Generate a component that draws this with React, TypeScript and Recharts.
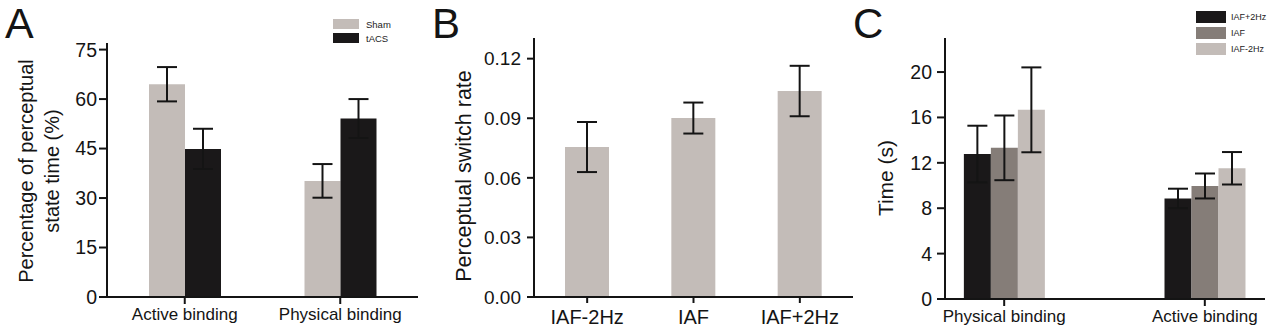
import React from 'react';
import { BarChart, Bar, XAxis, YAxis, ErrorBar, Label } from 'recharts';

// ---------- Panel A ----------
const catsA = ['Active binding', 'Physical binding'];
const shamA = [64.5, 35.2];
const shamErrA = [5.2, 5.1];
const tacsA = [44.9, 54.1];
const tacsErrA = [6.1, 5.9];
const ticksA = [0, 15, 30, 45, 60, 75];
const seriesNamesA = ['Sham', 'tACS'];

// ---------- Panel B ----------
const catsB = ['IAF-2Hz', 'IAF', 'IAF+2Hz'];
const rateB = [0.0755, 0.0901, 0.1037];
const rateErrB = [0.0126, 0.0078, 0.0127];
const ticksB = [0, 0.03, 0.06, 0.09, 0.12];

// ---------- Panel C ----------
const catsC = ['Physical binding', 'Active binding'];
const plusC = [12.77, 8.86];
const plusErrC = [2.5, 0.86];
const iafC = [13.32, 9.96];
const iafErrC = [2.85, 1.1];
const minusC = [16.67, 11.52];
const minusErrC = [3.74, 1.43];
const ticksC = [0, 4, 8, 12, 16, 20];
const seriesNamesC = ['IAF+2Hz', 'IAF', 'IAF-2Hz'];

const FONT = '"Liberation Sans", Arial, Helvetica, sans-serif';
const INK = '#141414';
const LIGHT = '#c3bcb8';
const MID = '#857d78';
const DARK = '#1a1819';

const dataA = catsA.map((c, i) => ({ cat: c, sham: shamA[i], shamErr: shamErrA[i], tacs: tacsA[i], tacsErr: tacsErrA[i] }));
const dataB = catsB.map((c, i) => ({ cat: c, rate: rateB[i], err: rateErrB[i] }));
const dataC = catsC.map((c, i) => ({ x: i, plus: plusC[i], plusErr: plusErrC[i], iaf: iafC[i], iafErr: iafErrC[i], minus: minusC[i], minusErr: minusErrC[i] }));

const axisStroke = { stroke: INK, strokeWidth: 2 };

const LegendBox = ({ items, left, top, sw, sh, pitch, fs, gap }: any) => (
  <div style={{ position: 'absolute', left, top, fontFamily: FONT }}>
    {items.map((it: any, i: number) => (
      <div key={it.name} style={{ position: 'absolute', left: 0, top: i * pitch, height: sh, display: 'flex', alignItems: 'center', whiteSpace: 'nowrap' }}>
        <div style={{ width: sw, height: sh, background: it.color }} />
        <span style={{ marginLeft: gap, fontSize: fs, color: '#222' }}>{it.name}</span>
      </div>
    ))}
  </div>
);

export default function App() {
  return (
    <div style={{ position: 'fixed', left: 0, top: 0, width: 1269, height: 328, overflow: 'hidden', background: '#fff' }}>
      {/* Panel A */}
      <div style={{ position: 'absolute', left: 0, top: 0 }}>
        <BarChart width={430} height={328} data={dataA} margin={{ top: 43, right: 12, bottom: 0, left: 0 }} barGap={0} barCategoryGap={42}>
          <XAxis dataKey="cat" height={31} axisLine={axisStroke} tickLine={axisStroke} tickSize={7} tickMargin={4}
            tick={{ fill: INK, fontSize: 17, fontFamily: FONT }} interval={0} />
          <YAxis width={107} domain={[0, 77]} ticks={ticksA} axisLine={axisStroke} tickLine={axisStroke} tickSize={8} tickMargin={2}
            tick={{ fill: INK, fontSize: 19.5, fontFamily: FONT }} interval={0}>
            <Label content={() => (
              <text transform="translate(32.5,171) rotate(-90)" textAnchor="middle" fill={INK} fontSize={20} fontFamily={FONT}>
                <tspan x={0} y={0}>Percentage of perceptual</tspan>
                <tspan x={0} y={26.5}>state time (%)</tspan>
              </text>
            )} />
          </YAxis>
          <Bar dataKey="sham" name={seriesNamesA[0]} fill={LIGHT} barSize={36} isAnimationActive={false}>
            <ErrorBar dataKey="shamErr" width={10} strokeWidth={2} stroke={INK} />
          </Bar>
          <Bar dataKey="tacs" name={seriesNamesA[1]} fill={DARK} barSize={36} isAnimationActive={false}>
            <ErrorBar dataKey="tacsErr" width={10} strokeWidth={2} stroke={INK} />
          </Bar>
        </BarChart>
      </div>

      {/* Panel B */}
      <div style={{ position: 'absolute', left: 420, top: 0 }}>
        <BarChart width={440} height={328} data={dataB} margin={{ top: 38, right: 7, bottom: 0, left: 0 }} barGap={0}>
          <XAxis dataKey="cat" height={31} axisLine={axisStroke} tickLine={axisStroke} tickSize={6} tickMargin={7}
            tick={{ fill: INK, fontSize: 20, fontFamily: FONT }} interval={0} />
          <YAxis width={114} domain={[0, 0.1304]} ticks={ticksB} tickFormatter={(v: number) => v.toFixed(2)}
            axisLine={axisStroke} tickLine={axisStroke} tickSize={7} tickMargin={6}
            tick={{ fill: INK, fontSize: 19, fontFamily: FONT }} interval={0}>
            <Label content={() => (
              <text transform="translate(51,176) rotate(-90)" textAnchor="middle" fill={INK} fontSize={21.5} fontFamily={FONT}>
                Perceptual switch rate
              </text>
            )} />
          </YAxis>
          <Bar dataKey="rate" fill={LIGHT} barSize={44} isAnimationActive={false}>
            <ErrorBar dataKey="err" width={10} strokeWidth={2} stroke={INK} />
          </Bar>
        </BarChart>
      </div>

      {/* Panel C */}
      <div style={{ position: 'absolute', left: 840, top: 0 }}>
        <BarChart width={429} height={328} data={dataC} margin={{ top: 38, right: 4, bottom: 0, left: 0 }} barGap={0}>
          <XAxis dataKey="x" type="number" domain={[-0.295, 1.3]} ticks={[0, 1]} tickFormatter={(v: number) => catsC[v] ?? ''}
            height={29} axisLine={axisStroke} tickLine={axisStroke} tickSize={7} tickMargin={4}
            tick={{ fill: INK, fontSize: 17, fontFamily: FONT }} interval={0} />
          <YAxis width={105} domain={[0, 23]} ticks={ticksC} axisLine={axisStroke} tickLine={axisStroke} tickSize={8} tickMargin={5}
            tick={{ fill: INK, fontSize: 19.5, fontFamily: FONT }} interval={0}>
            <Label content={() => (
              <text transform="translate(53,178) rotate(-90)" textAnchor="middle" fill={INK} fontSize={21} fontFamily={FONT}>
                Time (s)
              </text>
            )} />
          </YAxis>
          <Bar dataKey="plus" name={seriesNamesC[0]} fill={DARK} barSize={27} isAnimationActive={false}>
            <ErrorBar dataKey="plusErr" width={10} strokeWidth={2} stroke={INK} />
          </Bar>
          <Bar dataKey="iaf" name={seriesNamesC[1]} fill={MID} barSize={27} isAnimationActive={false}>
            <ErrorBar dataKey="iafErr" width={10} strokeWidth={2} stroke={INK} />
          </Bar>
          <Bar dataKey="minus" name={seriesNamesC[2]} fill={LIGHT} barSize={27} isAnimationActive={false}>
            <ErrorBar dataKey="minusErr" width={10} strokeWidth={2} stroke={INK} />
          </Bar>
        </BarChart>
      </div>

      {/* Legends */}
      <LegendBox left={333} top={19} sw={26} sh={10} pitch={14} fs={9.5} gap={7}
        items={[{ name: seriesNamesA[0], color: LIGHT }, { name: seriesNamesA[1], color: DARK }]} />
      <LegendBox left={1196} top={11} sw={30} sh={12} pitch={16} fs={9} gap={5}
        items={[{ name: seriesNamesC[0], color: DARK }, { name: seriesNamesC[1], color: MID }, { name: seriesNamesC[2], color: LIGHT }]} />

      {/* Panel letters */}
      <svg width={1269} height={328} style={{ position: 'absolute', left: 0, top: 0, pointerEvents: 'none' }}>
        <text x={5} y={38} fontSize={43} fontFamily={FONT} fill={INK}>A</text>
        <text x={432} y={37.5} fontSize={42} fontFamily={FONT} fill={INK}>B</text>
        <text x={853} y={37.5} fontSize={42} fontFamily={FONT} fill={INK}>C</text>
      </svg>
    </div>
  );
}
